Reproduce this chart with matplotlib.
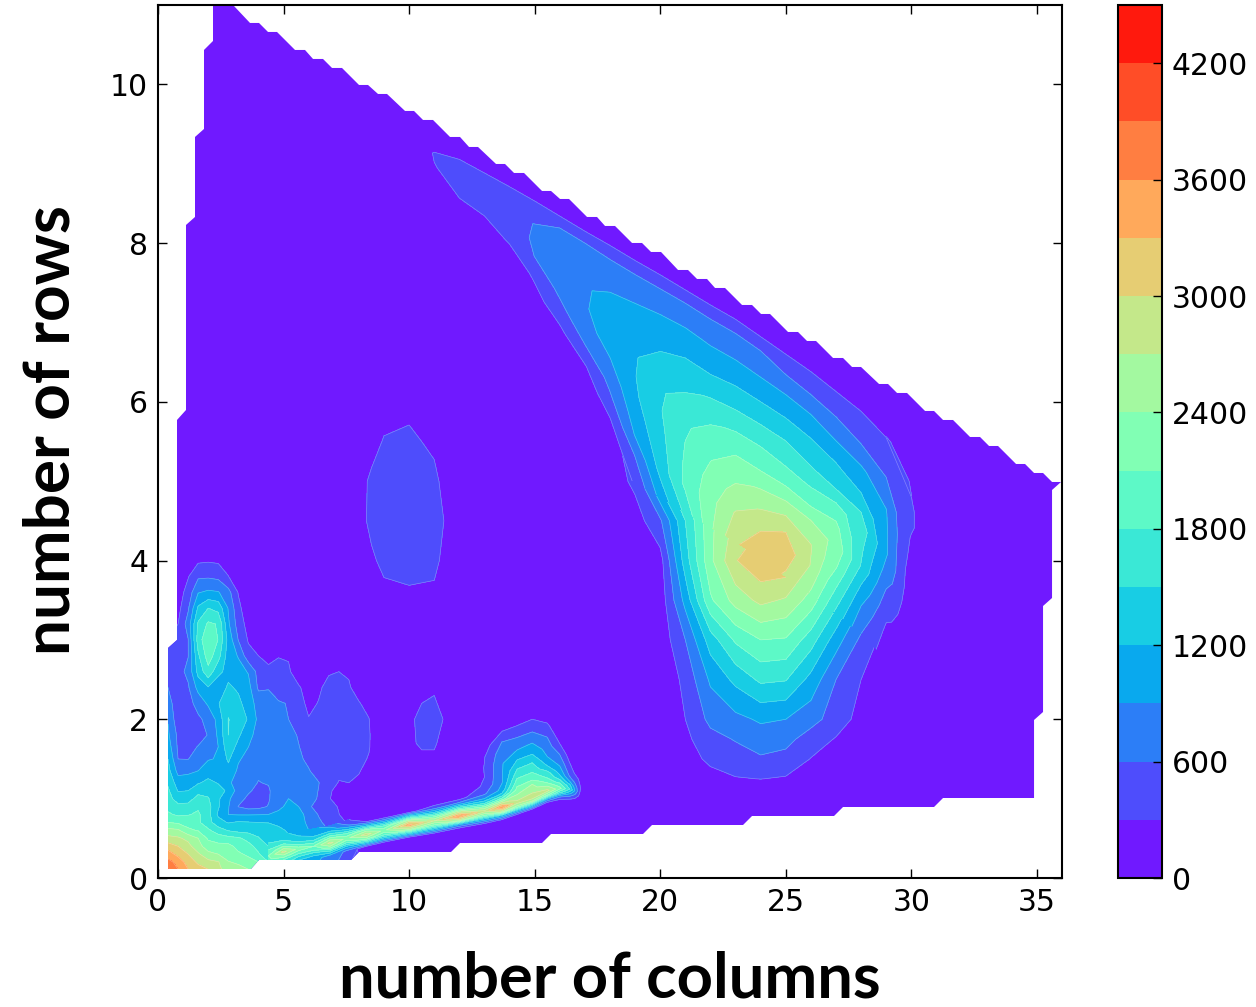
import numpy as np
import matplotlib
matplotlib.use("Agg")
import matplotlib.pyplot as plt
from matplotlib.colors import Normalize
from matplotlib.patches import Polygon

N = np.nan
all_levels = list(range(0, 4501, 300))
raised_levels = all_levels[1:]
bar_ticks = list(range(0, 4201, 600))
x_ticks = [0, 5, 10, 15, 20, 25, 30, 35]
y_ticks = [0, 2, 4, 6, 8, 10]

# ---------- main peak, lower half (rows = y, cols = x)
peak_x = list(range(10, 32))
peak_y = [1.0, 1.25, 1.5, 1.75, 2, 2.5, 3, 3.5, 4, 4.5, 5, 5.5, 6]
peak_z = [
    [0]*22,
    [0,0,0,0,0,0,0,0,0,0,0,100,220,280,305,270,200,100,0,0,0,0],
    [0,0,0,0,0,0,0,0,0,0,0,200,350,470,560,500,290,200,100,0,0,0],
    [0,0,0,0,0,0,0,0,0,0,0,230,500,620,760,700,450,280,100,0,0,0],
    [0,0,0,0,0,0,0,0,0,0,0,300,680,820,940,900,720,450,200,50,0,0],
    [0,0,0,0,0,0,0,0,0,0,50,380,950,1280,1560,1520,1100,600,300,100,0,0],
    [0,0,0,0,0,0,0,0,0,0,100,600,1350,1850,2100,2070,1640,1040,530,170,50,0],
    [0,0,0,0,0,0,0,0,0,0,120,1000,2050,2520,2780,2660,2270,1620,960,460,60,0],
    [0,0,0,0,0,0,0,0,0,0,180,1350,2330,2980,3250,3250,2750,2220,1570,940,150,0],
    [0,0,0,0,0,0,0,0,0,150,550,1500,2330,2780,2940,2820,2620,2190,1570,930,340,0],
    [0,0,0,0,0,0,0,0,100,380,1320,1850,2230,2390,2260,1950,1700,1370,840,510,280,0],
    [0,0,0,0,0,0,0,0,100,620,1530,1790,1880,1880,1780,1500,1230,900,570,340,100,0],
    [0]*22,
]

# ---------- main peak, upper half: columns, with rows as depth below the upper slanted edge
wedge_x = [10,10.5,11,12,13,14,15,16,17,18,19,20,21,22,23,24,25,26,27,28,29,30,31]
wedge_top = [9.46,9.36,9.27,9.08,8.9,8.71,8.53,8.34,8.15,7.97,7.78,7.6,7.41,7.22,7.04,6.82,6.6,6.38,6.13,5.88,5.55,4.95,4.6]
wedge_depth = [-.15,0,.15,.3,.5,.7,.95,1.2,1.45,1.7,1.95,2.2,2.45,2.8]
wedge_z = [
    [0]*14,
    [0,100,180,150,50,0,0,0,0,0,0,0,0,0],
    [0,200,320,290,100,0,0,0,0,0,0,0,0,0],
    [0,290,350,370,310,150,0,0,0,0,0,0,0,0],
    [0,290,380,420,340,200,50,0,0,0,0,0,0,0],
    [0,300,400,480,420,320,100,0,0,0,0,0,0,0],
    [0,300,470,610,650,605,350,200,50,0,0,0,0,0],
    [0,300,600,720,780,790,670,470,220,50,0,0,0,0],
    [0,300,600,720,850,880,870,800,580,270,80,0,0,0],
    [0,300,570,740,860,950,1060,1010,880,700,520,270,100,0],
    [0,300,570,740,880,980,1080,1180,1190,1150,1050,920,620,340],
    [0,300,570,740,900,1040,1190,1350,1470,1480,1430,1370,1300,1000],
    [0,300,580,750,920,1080,1270,1440,1600,1760,1810,1850,1870,1580],
    [0,300,570,730,890,1040,1270,1530,1760,1930,2090,2210,2290,2340],
    [0,300,570,730,890,1060,1310,1560,1840,2090,2300,2510,2730,2950],
    [0,300,570,730,890,1080,1330,1600,1870,2110,2440,2730,3000,3250],
    [0,300,500,640,890,1100,1340,1620,1830,2150,2570,2960,3200,2950],
    [0,300,470,610,860,1060,1310,1510,1790,2100,2530,2720,2680,2350],
    [0,300,440,580,790,970,1260,1450,1880,2180,2340,2140,1830,1420],
    [0,300,400,500,680,920,1100,1430,1680,1570,1480,1180,900,600],
    [0,300,370,460,600,820,920,950,940,790,560,380,230,100],
    [0,200,300,340,340,270,200,100,50,0,0,0,0,0],
    [0]*14,
]

# ---------- isolated blob in the middle
blob_x = [8, 8.5, 9, 10, 11, 11.5, 12]
blob_y = [3.5, 4, 4.5, 5, 5.5, 5.75]
blob_z = [
    [0,100,220,240,230,100,0],
    [100,260,360,400,370,200,0],
    [210,360,420,440,400,270,0],
    [200,350,400,420,360,200,0],
    [0,200,320,350,250,0,0],
    [0,0,250,290,100,0,0],
]

# ---------- small blob above the ridge
spot_x = [10, 10.5, 11, 11.5]
spot_y = [1.4, 1.7, 2, 2.3, 2.5]
spot_z = [
    [0,200,200,0],
    [250,340,340,150],
    [270,340,370,270],
    [150,280,300,150],
    [0,0,100,0],
]

# ---------- lower-left structure
corner_x = [.4,.8,1.2,1.6,2,2.4,2.8,3.2,3.6,4,4.4,4.8,5.2,5.6,6,6.4,6.8,7.2,7.6,8,8.4,8.8]
corner_y = [.11,.2,.3,.4,.5,.6,.7,.8,.9,1,1.1,1.2,1.35,1.5,1.65,1.8,2,2.2,2.4,2.6,2.8,3,3.2,3.4,3.6,3.8,4]
corner_z = [
    [3950,3600,3300,3100,3000,2750,2600,2500,2400,2300,1700,1500,1300,1100,1000,800,700,500,400,300,0,0],
    [3700,3500,3150,2950,2800,2720,2420,2350,2200,2100,1800,1500,1300,1100,1000,800,700,500,400,300,0,0],
    [3450,3200,3000,2750,2480,2400,2250,2150,2050,1830,1600,1300,1200,1000,900,700,650,500,400,300,0,0],
    [3150,3000,2800,2500,2250,2200,2200,2000,1900,1700,1500,1400,1300,1100,1000,850,700,550,400,250,0,0],
    [2800,2750,2620,2400,2050,1950,1900,1850,1700,1520,1350,1300,1250,1100,950,820,650,520,380,100,0,0],
    [2500,2450,2150,2080,1850,1650,1480,1400,1400,1400,1350,1300,1150,1050,900,800,600,500,350,100,0,0],
    [2100,2050,2000,1850,1620,1300,1180,1240,1220,1200,1190,1100,1100,1000,850,650,500,350,280,0,0,0],
    [1850,1750,1780,1850,1600,1150,900,880,880,890,900,950,1050,1000,800,580,460,310,100,0,0,0],
    [1700,1580,1600,1750,1600,1230,920,590,480,500,620,850,950,900,650,470,400,280,0,0,0,0],
    [1620,1350,1380,1600,1520,1250,950,700,540,460,560,870,900,860,760,560,330,150,0,0,0,0],
    [1550,1180,1200,1400,1420,1300,1150,760,640,520,560,800,830,800,720,590,350,200,100,0,0,0],
    [1450,1050,1070,1170,1280,1180,950,780,680,590,620,700,750,720,680,610,390,290,300,250,50,0],
    [1300,800,830,900,1050,1050,1100,850,700,640,640,680,700,680,620,480,340,340,340,320,200,0],
    [1200,600,590,780,880,920,1250,930,820,750,720,700,680,650,540,430,390,420,430,370,280,50],
    [1050,550,480,620,770,900,1400,1100,900,780,730,700,680,610,500,400,400,450,450,400,320,100],
    [950,530,400,450,620,950,1500,1250,980,800,720,680,680,580,420,370,400,470,470,400,320,150],
    [880,400,420,550,680,1000,1510,1380,1170,830,700,650,600,430,310,340,430,480,450,370,310,0],
    [750,380,500,700,950,1180,1400,1280,1050,780,660,620,590,380,250,310,400,450,400,320,200,0],
    [600,400,560,1000,1180,1000,1250,1150,1000,550,590,500,480,340,150,270,360,400,330,180,0,0],
    [480,480,680,1300,1700,1280,1100,1000,880,490,340,370,350,100,0,100,280,300,270,0,0,0],
    [400,430,590,1450,1950,1620,1050,880,400,300,250,290,270,0,0,0,0,0,0,0,0,0],
    [300,350,590,1650,2050,1790,1100,590,270,80,0,0,0,0,0,0,0,0,0,0,0,0],
    [0,300,730,1550,1850,1780,950,460,190,0,0,0,0,0,0,0,0,0,0,0,0,0],
    [0,210,560,1250,1500,1400,880,380,100,0,0,0,0,0,0,0,0,0,0,0,0,0],
    [0,150,420,880,950,920,700,280,0,0,0,0,0,0,0,0,0,0,0,0,0,0],
    [0,0,280,550,560,520,310,0,0,0,0,0,0,0,0,0,0,0,0,0,0,0],
    [0,0,100,250,270,250,100,0,0,0,0,0,0,0,0,0,0,0,0,0,0,0],
]

# ---------- long narrow ridge: columns along the crest, rows are offsets from the crest
ridge_x = [4.4,5,5.6,6.2,6.85,7.5,8.3,9,10,11,12,13,13.7,14.3,14.9,15.5,16,16.4,16.8,17.2]
ridge_crest = [.28,.33,.37,.40,.44,.50,.55,.60,.67,.72,.78,.84,.89,.95,1.02,1.10,1.13,1.12,1.08,1.05]
ridge_offset = [-.3,-.16,-.1,-.05,0,.05,.1,.16,.22,.32,.43,.55,.68,.82,.98,1.2]
ridge_z = [
    [1800,1900,1950,2050,2100,1900,1700,1500,1400,N,N,N,N,N,N,N],
    [1200,1500,1800,2300,2800,2300,1800,1400,1250,N,N,N,N,N,N,N],
    [900,1100,1500,1900,2300,1800,1400,1200,1100,N,N,N,N,N,N,N],
    [900,1000,1300,1800,2100,1700,1300,1050,950,N,N,N,N,N,N,N],
    [700,800,1500,2300,2800,2300,1700,1100,800,N,N,N,N,N,N,N],
    [400,550,1200,1900,2300,1900,1300,650,350,N,N,N,N,N,N,N],
    [0,100,1300,2300,2850,2300,1300,300,100,0,0,0,0,0,0,0],
    [0,100,1100,1900,2300,1900,1100,250,50,0,0,0,0,0,0,0],
    [0,200,1400,2600,3400,2600,1400,200,0,0,0,0,0,0,0,0],
    [0,200,1200,2100,2700,2100,1300,500,150,0,0,0,0,0,0,0],
    [0,150,1000,2600,3500,2700,1700,700,200,50,0,0,0,0,0,0],
    [0,200,1100,2100,2800,2200,1500,900,550,350,300,310,290,150,0,0],
    [0,200,1200,2600,3550,2800,2000,1300,1000,880,880,880,780,610,250,0],
    [0,100,1100,2300,2800,2600,2400,2200,2050,1750,1480,1170,860,600,280,0],
    [0,150,1300,2400,2950,2700,2550,2400,2060,1770,1500,1170,900,600,300,0],
    [0,100,1000,2200,2800,2450,2100,1800,1620,1180,900,760,590,350,100,0],
    [0,100,700,1600,2200,1900,1550,1230,1050,800,590,320,120,0,0,0],
    [0,50,500,1000,1500,1250,880,580,450,310,150,0,0,0,0,0],
    [0,0,80,200,300,320,300,250,100,0,0,0,0,0,0,0],
    [0]*16,
]

edge_px = [213,233,250,259,268,277,295,305,313,323,332,342,359,368,378,387,405,414,423,433,450,460,469,478,
           496,505,514,524,542,551,560,569,587,597,605,615,632,642,651,661,678,688,697,707,715,725,742,752,
           761,770,788,798,807,816,833,843,852,861,879,888,897,907,925,934,943,953,970,980,989,998,1016,1025,
           1034,1043,1052,1061,1052,1052,1043,1043,1034,1034,943,934,843,834,752,743,652,643,551,542,460,451,
           359,351,259,251,168,168,177,177,186,186,195,195,204,204,213]
edge_py = [5,5,23,23,32,32,50,50,59,59,68,68,85,85,94,94,111,111,120,120,137,137,147,147,
           164,164,173,173,191,191,199,199,217,217,226,226,243,243,252,252,270,270,279,279,288,288,305,305,
           314,314,332,332,341,341,358,358,367,367,384,384,393,393,411,411,420,420,437,437,446,446,464,464,
           473,473,482,482,490,598,606,712,720,798,798,807,807,816,816,825,825,834,834,843,843,852,
           852,860,860,869,869,648,640,420,410,225,217,137,129,50,41]

fig = plt.figure(figsize=(12.56, 10.07), dpi=100)
W, H = 1256, 1007
ax = fig.add_axes([158/W, 1-878/H, (1062-158)/W, (878-5)/H])
cax = fig.add_axes([1118/W, 1-878/H, (1162-1118)/W, (878-5)/H])

norm = Normalize(0, 4500)
clip = Polygon(np.column_stack([(np.array(edge_px)-158)/25.11, (878-np.array(edge_py))/79.36]),
               closed=True, transform=ax.transData, fill=False, edgecolor='none')
ax.add_patch(clip)

base = ax.contourf([0, 36], [0, 11], [[10, 10], [10, 10]], levels=all_levels, cmap='rainbow', norm=norm, zorder=0.5)
base.set_clip_path(clip)

stack = [0.6]


def layer(gx, gy, z):
    stack[0] += 0.02
    cs = ax.contourf(gx, gy, z, levels=raised_levels, cmap='rainbow', norm=norm, zorder=stack[0])
    cs.set_clip_path(clip)
    ln = ax.contour(gx, gy, z, levels=raised_levels, colors='white', linewidths=0.5, alpha=0.3, zorder=stack[0] + 0.01)
    ln.set_clip_path(clip)


layer(peak_x, peak_y, np.array(peak_z, dtype=float))
wx = np.array(wedge_x, dtype=float)[:, None] * np.ones((1, len(wedge_depth)))
wy = np.array(wedge_top)[:, None] - np.array(wedge_depth)[None, :]
layer(wx, wy, np.array(wedge_z, dtype=float))
layer(blob_x, blob_y, np.array(blob_z, dtype=float))
layer(spot_x, spot_y, np.array(spot_z, dtype=float))
layer(corner_x, corner_y, np.array(corner_z, dtype=float))

rx = np.array(ridge_x)[:, None] * np.ones((1, len(ridge_offset)))
ry = np.array(ridge_crest)[:, None] + np.array(ridge_offset)[None, :]
layer(rx, ry, np.ma.masked_invalid(np.array(ridge_z, dtype=float)))

ax.set_xlim(0, 36)
ax.set_ylim(0, 11)
ax.set_xticks(x_ticks)
ax.set_yticks(y_ticks)
ax.tick_params(direction='in', top=True, right=True, length=6.5, width=1.0, labelsize=21.5, pad=7, colors='black')
for s in ax.spines.values():
    s.set_linewidth(1.5)
ax.set_xlabel('number of columns', fontsize=45.5, family='Lato', fontweight='bold', labelpad=24)
ax.set_ylabel('number of rows', fontsize=46, family='Lato', fontweight='bold', labelpad=22, y=0.5126)

cb = fig.colorbar(base, cax=cax, ticks=bar_ticks)
cb.ax.tick_params(direction='in', length=6.5, width=1.0, labelsize=21.5, pad=7)
cb.outline.set_linewidth(1.5)

fig.savefig('out.png', dpi=100)
